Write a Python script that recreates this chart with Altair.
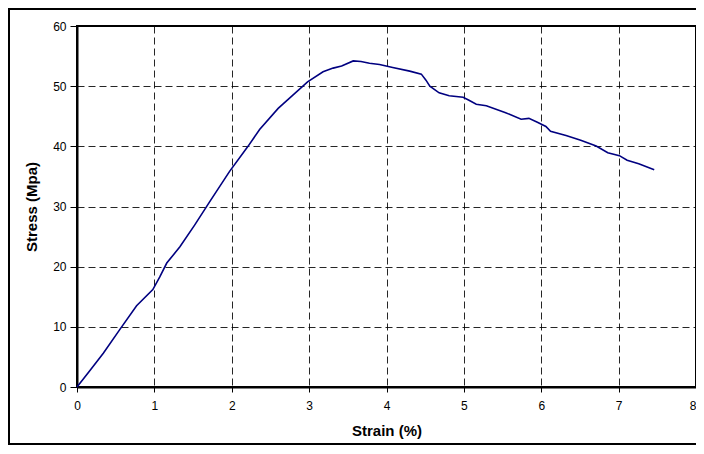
import altair as alt
import pandas as pd

strain = [0, 0.17, 0.34, 0.55, 0.77, 0.98, 1.07, 1.16, 1.33, 1.52, 1.72, 1.97, 2.21, 2.36,
          2.60, 2.79, 2.98, 3.18, 3.31, 3.42, 3.57, 3.67, 3.78, 3.91, 4.08, 4.30, 4.45, 4.51,
          4.56, 4.68, 4.81, 4.99, 5.06, 5.16, 5.29, 5.54, 5.74, 5.84, 5.95, 6.06, 6.12, 6.32,
          6.51, 6.71, 6.86, 7.01, 7.11, 7.26, 7.46]
stress = [0, 2.8, 5.6, 9.5, 13.5, 16.2, 18.3, 20.6, 23.3, 26.9, 30.9, 35.8, 40.0, 42.8,
          46.3, 48.5, 50.7, 52.4, 53.0, 53.35, 54.2, 54.1, 53.8, 53.6, 53.1, 52.5, 52.0, 51.0,
          50.0, 48.9, 48.4, 48.15, 47.7, 47.0, 46.75, 45.6, 44.5, 44.65, 44.0, 43.3, 42.5, 41.8,
          41.0, 40.05, 38.95, 38.45, 37.7, 37.1, 36.1]
x_ticks = [0, 1, 2, 3, 4, 5, 6, 7, 8]
y_ticks = [0, 10, 20, 30, 40, 50, 60]

df = pd.DataFrame({"strain": strain, "stress": stress})

FONT = "Liberation Sans"

line = alt.Chart(df).mark_line(color="#000080", strokeWidth=1.6, interpolate="linear").encode(
    x=alt.X("strain:Q", scale=alt.Scale(domain=[0, 8], nice=False),
            axis=alt.Axis(values=x_ticks, title="Strain (%)", tickSize=5, labelPadding=8,
                          titlePadding=12, format="d", labelFlush=False,
                          labelAlign={"condition": {"test": "datum.value === 8", "value": "right"},
                                      "value": "center"})),
    y=alt.Y("stress:Q", scale=alt.Scale(domain=[0, 60], nice=False),
            axis=alt.Axis(values=y_ticks, title="Stress (Mpa)", tickSize=7, labelPadding=4,
                          titlePadding=13, format="d", labelFlush=False)),
)

frame = alt.Chart(pd.DataFrame({"a": [0]})).mark_rect(
    fillOpacity=0, stroke="black", strokeWidth=2
).encode(
    x=alt.value(-68), x2=alt.value(650), y=alt.value(-17), y2=alt.value(418)
)

chart = alt.layer(frame, line).properties(
    width=619, height=361,
    autosize=alt.AutoSizeParams(type="none"),
    padding={"left": 69, "top": 18, "right": 0, "bottom": 59},
).configure_view(
    stroke="black", strokeWidth=2
).configure_axis(
    grid=True, gridColor="black", gridDash=[7, 4], gridWidth=1, gridOpacity=0.85,
    domainColor="black", domainWidth=2, tickColor="black", tickWidth=1,
    labelFont=FONT, labelFontSize=12, labelColor="black",
    titleFont=FONT, titleFontSize=15, titleFontWeight="bold", titleColor="black",
)

chart.save("out.html", embed_options={"renderer": "svg", "actions": False})
